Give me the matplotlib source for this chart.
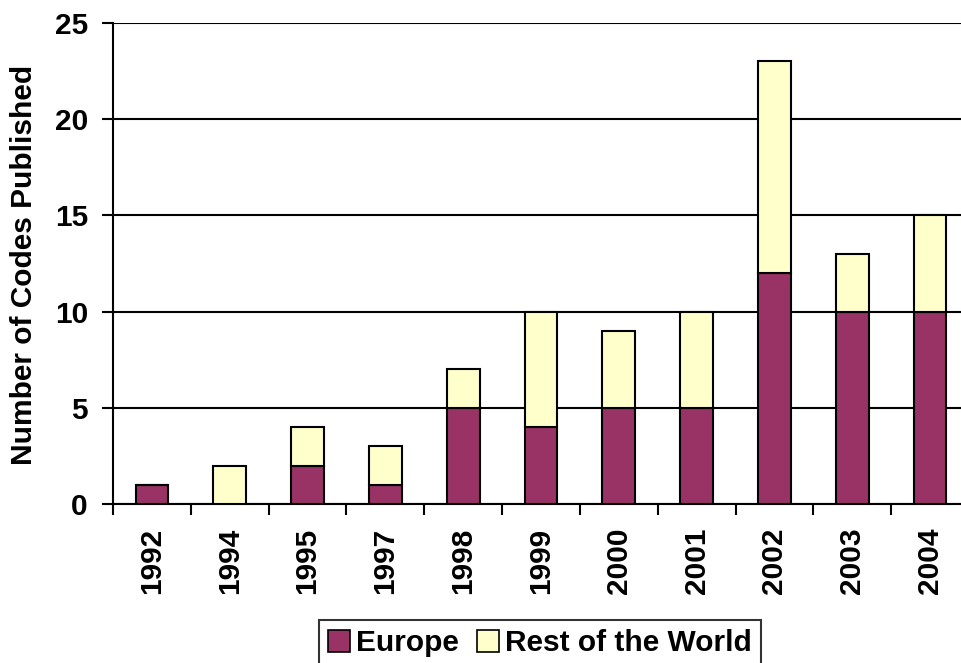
import numpy as np
import matplotlib
matplotlib.use("Agg")
import matplotlib.pyplot as plt
from matplotlib.patches import Patch

years = ["1992", "1994", "1995", "1997", "1998", "1999", "2000", "2001", "2002", "2003", "2004"]
europe = [1, 0, 2, 1, 5, 4, 5, 5, 12, 10, 10]
rest_of_world = [0, 2, 2, 2, 2, 6, 4, 5, 11, 3, 5]

plt.rcParams["font.family"] = ["Liberation Sans", "DejaVu Sans"]
plt.rcParams["font.weight"] = "bold"

fig = plt.figure(figsize=(9.61, 6.63), dpi=100)
ax = fig.add_axes([113 / 961, 159 / 663, 856 / 961, 481 / 663])

x = np.arange(len(years))
w = 0.42
ax.bar(x, europe, w, color="#993366", edgecolor="black", linewidth=1.5, zorder=3)
ax.bar(x, rest_of_world, w, bottom=europe, color="#FFFFCC", edgecolor="black",
       linewidth=1.5, zorder=3)

ax.set_xlim(-0.5, len(years) - 0.5)
ax.set_ylim(0, 25)
ax.set_yticks([0, 5, 10, 15, 20, 25])
ax.yaxis.grid(True, color="black", linewidth=1.5, zorder=0)
ax.set_axisbelow(True)

fs = 21.5
ax.set_xticks(x)
ax.set_xticklabels(years, rotation=90, fontsize=fs, fontweight="bold")
ax.tick_params(axis="x", which="major", length=0, pad=17)
ax.set_xticks(np.arange(-0.5, len(years)), minor=True)
ax.tick_params(axis="x", which="minor", length=8, width=1.5, direction="out")
ax.tick_params(axis="y", labelsize=fs, length=8, width=1.5, pad=10)
for lab in ax.get_yticklabels():
    lab.set_fontweight("bold")

for s in ["top", "right"]:
    ax.spines[s].set_visible(False)
for s in ["left", "bottom"]:
    ax.spines[s].set_linewidth(1.5)

# y label placed directly in figure pixels
fig.text(24 / 961, 1 - 265 / 663, "Number of Codes Published", rotation=90,
         ha="center", va="center", fontsize=fs, fontweight="bold")

handles = [Patch(facecolor="#993366", edgecolor="black", linewidth=1.2, label="Europe"),
           Patch(facecolor="#FFFFCC", edgecolor="black", linewidth=1.2, label="Rest of the World")]
leg = fig.legend(handles=handles, loc="lower center", bbox_to_anchor=(540 / 961, -0.005),
                 ncol=2, fontsize=fs, frameon=True, fancybox=False, edgecolor="black",
                 handlelength=0.75, handleheight=0.75, handletextpad=0.2, columnspacing=0.6,
                 borderpad=0.3, borderaxespad=0)
leg.get_frame().set_linewidth(1.5)
for t in leg.get_texts():
    t.set_fontweight("bold")

fig.savefig("out.png", dpi=100)
